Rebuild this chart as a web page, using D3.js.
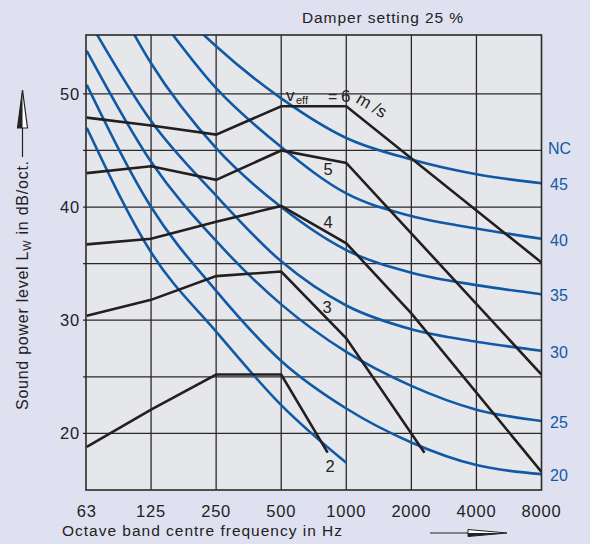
<!DOCTYPE html>
<html><head><meta charset="utf-8">
<script src="https://cdn.jsdelivr.net/npm/d3@7"></script>
<style>html,body{margin:0;padding:0;background:#dfe1f0;} svg{display:block;}</style>
</head><body><svg id="c" width="590" height="544"></svg>
<script>
// ---- data ----
const freqs = [63, 125, 250, 500, 1000, 2000, 4000, 8000];
const freqLabels = ["63", "125", "250", "500", "1000", "2000", "4000", "8000"];
const yTickValues = [20, 30, 40, 50];
const yGridValues = [20, 25, 30, 35, 40, 45, 50];

// black curves: effective velocity (label, frequencies, levels)
const v6Freq = [63, 125, 250, 500, 1000, 8000];
const v6Level = [47.9, 47.2, 46.4, 48.9, 48.9, 35.1];
const v5Freq = [63, 125, 250, 500, 1000, 8000];
const v5Level = [43.0, 43.6, 42.4, 45.0, 43.9, 25.2];
const v4Freq = [63, 125, 250, 500, 1000, 2000, 8000];
const v4Level = [36.7, 37.2, 38.7, 40.1, 36.8, 30.6, 16.6];
const v3Freq = [63, 125, 250, 500, 1000, 2300];
const v3Level = [30.4, 31.8, 33.9, 34.3, 28.4, 18.3];
const v2Freq = [63, 125, 250, 500, 820];
const v2Level = [18.8, 22.1, 25.2, 25.2, 18.3];

// NC curves (levels at octave bands)
const nc15 = [47, 36, 29, 22.5, 17.4];
const nc20 = [50.8, 40, 32.6, 26.4, 22.2, 19.2, 17.2, 16.4];
const nc25 = [53.8, 44, 37, 31.4, 27.2, 24.2, 22.1, 21.1];
const nc30 = [56.8, 47.6, 41, 35.2, 31.3, 29.2, 28.1, 27.3];
const nc35 = [63.5, 52.7, 45.2, 40, 36.2, 34.2, 33.1, 32.3];
const nc40 = [66, 57.8, 50.5, 45.3, 41.2, 39.2, 38.1, 37.2];
const nc45 = [67, 60, 54.2, 49.6, 46.1, 44.2, 42.9, 42.1];
const ncNames = ["20", "25", "30", "35", "40", "45"];
const ncEndLevels = [nc20, nc25, nc30, nc35, nc40, nc45];

// ---- drawing ----
const svg = d3.select("#c");
const FONT = "'Liberation Sans', Arial, Helvetica, sans-serif";
const L = 86, R = 541.5, T = 35, B = 490;
const x = d3.scaleLog().base(2).domain([62.5, 8000]).range([L, R]);
const y = d3.scaleLinear().domain([15, 55.2]).range([B, T]);

const BLUE = "#1159a6", INK = "#231f20";

svg.append("rect").attr("width", 590).attr("height", 544).attr("fill", "#dfe1f0");
svg.append("rect").attr("x", L).attr("y", T).attr("width", R - L).attr("height", B - T).attr("fill", "#e6e7eb");

svg.append("defs").append("clipPath").attr("id", "clip")
  .append("rect").attr("x", L).attr("y", T).attr("width", R - L).attr("height", B - T);

// grid
const grid = svg.append("g").attr("stroke", "#2a2a2a").attr("stroke-width", 1.3);
grid.selectAll(".v").data(freqs.slice(1, -1)).join("line")
  .attr("x1", d => x(d)).attr("x2", d => x(d)).attr("y1", T).attr("y2", B);
grid.selectAll(".h").data(yGridValues).join("line")
  .attr("x1", L - 3).attr("x2", R).attr("y1", d => y(d)).attr("y2", d => y(d));

// NC curves
const ncLine = d3.line().x((d, i) => x(freqs[i])).y(d => y(d)).curve(d3.curveMonotoneX);
const plot = svg.append("g").attr("clip-path", "url(#clip)");
[nc15, nc20, nc25, nc30, nc35, nc40, nc45].forEach(arr => {
  plot.append("path").attr("d", ncLine(arr)).attr("fill", "none")
    .attr("stroke", BLUE).attr("stroke-width", 2.6);
});

// velocity curves
const vLine = d3.line().x(d => x(d[0])).y(d => y(d[1]));
[[v6Freq, v6Level], [v5Freq, v5Level], [v4Freq, v4Level], [v3Freq, v3Level], [v2Freq, v2Level]]
  .forEach(([f, l]) => {
    plot.append("path").attr("d", vLine(f.map((fr, i) => [fr, l[i]])))
      .attr("fill", "none").attr("stroke", INK).attr("stroke-width", 2.6)
      .attr("stroke-linejoin", "miter");
  });

// border
svg.append("rect").attr("x", L).attr("y", T).attr("width", R - L).attr("height", B - T)
  .attr("fill", "none").attr("stroke", "#2a2a2a").attr("stroke-width", 1.6);

// axis tick labels
svg.append("g").selectAll("text").data(freqs).join("text")
  .attr("x", d => x(d)).attr("y", 517).attr("text-anchor", "middle")
  .attr("font-family", FONT).attr("font-size", 16.5).attr("letter-spacing", 0.8).attr("fill", "#222")
  .text((d, i) => freqLabels[i]);
svg.append("g").selectAll("text").data(yTickValues).join("text")
  .attr("x", 80).attr("y", d => y(d) + 6).attr("text-anchor", "end")
  .attr("font-family", FONT).attr("font-size", 16.5).attr("letter-spacing", 0.8).attr("fill", "#222")
  .text(d => d);

// NC labels
svg.append("text").attr("x", 548).attr("y", 154).attr("font-family", FONT).attr("font-size", 16)
  .attr("fill", BLUE).text("NC");
svg.append("g").selectAll("text").data(ncNames).join("text")
  .attr("x", 550).attr("y", (d, i) => y(ncEndLevels[i][7]) + 7)
  .attr("font-family", FONT).attr("font-size", 16).attr("fill", BLUE).text(d => d);

// title
svg.append("text").attr("x", 302).attr("y", 23).attr("font-family", FONT).attr("font-size", 15.5)
  .attr("fill", "#222").attr("textLength", 161).attr("lengthAdjust", "spacing")
  .text("Damper setting 25 %");

// x axis title + arrow
svg.append("text").attr("x", 62).attr("y", 536).attr("font-family", FONT).attr("font-size", 15.5)
  .attr("fill", "#222").attr("textLength", 280).attr("lengthAdjust", "spacing")
  .text("Octave band centre frequency in Hz");
svg.append("line").attr("x1", 430).attr("x2", 470).attr("y1", 533).attr("y2", 533)
  .attr("stroke", "#222").attr("stroke-width", 1.2);
svg.append("path").attr("d", "M468,529.5L507,533L468,536.5Z").attr("fill", "#fff").attr("stroke", "#222").attr("stroke-width", 1);
svg.append("path").attr("d", "M468,533L507,533L468,536.5Z").attr("fill", "#222");

// y axis title + arrow
const yt = svg.append("text").attr("transform", "translate(28,410) rotate(-90)")
  .attr("font-family", FONT).attr("font-size", 16).attr("letter-spacing", 0.75).attr("fill", "#222");
yt.append("tspan").text("Sound power level L");
yt.append("tspan").attr("font-size", 11).attr("dy", 3).text("W");
yt.append("tspan").attr("dy", -3).text(" in dB/oct.");
svg.append("line").attr("x1", 22.5).attr("x2", 22.5).attr("y1", 157).attr("y2", 126)
  .attr("stroke", "#222").attr("stroke-width", 1.2);
svg.append("path").attr("d", "M22.5,90L27.5,128L17.5,128Z").attr("fill", "#fff").attr("stroke", "#222").attr("stroke-width", 1.2);
svg.append("path").attr("d", "M22.5,90L22.5,128L17.5,128Z").attr("fill", "#222");

// curve labels
const lab = svg.append("g").attr("font-family", FONT).attr("fill", "#222");
lab.append("text").attr("x", 286).attr("y", 101).attr("font-size", 17).text("v");
lab.append("text").attr("x", 296).attr("y", 104).attr("font-size", 11).text("eff");
lab.append("text").attr("x", 328).attr("y", 102).attr("font-size", 16).text("=");
lab.append("text").attr("x", 341).attr("y", 102).attr("font-size", 17).text("6");
lab.append("text").attr("transform", "translate(355,102) rotate(31)").attr("font-size", 17).text("m /s");
lab.append("text").attr("x", 328).attr("y", 175).attr("font-size", 16.5).attr("text-anchor", "middle").text("5");
lab.append("text").attr("x", 328).attr("y", 228).attr("font-size", 16.5).attr("text-anchor", "middle").text("4");
lab.append("text").attr("x", 327).attr("y", 313).attr("font-size", 16.5).attr("text-anchor", "middle").text("3");
lab.append("text").attr("x", 330).attr("y", 472).attr("font-size", 16.5).attr("text-anchor", "middle").text("2");
</script></body></html>
